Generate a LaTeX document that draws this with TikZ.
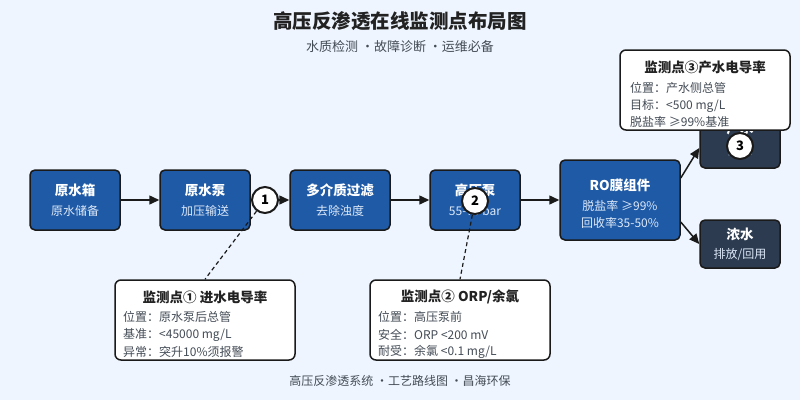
\documentclass[tikz,border=0pt]{standalone}
\usepackage{fontspec}
\setmainfont{Noto Sans CJK SC}
\usetikzlibrary{arrows.meta}
\definecolor{bg}{HTML}{EEF5FE}
\definecolor{boxblue}{HTML}{1F5AA6}
\definecolor{boxdark}{HTML}{2C3B50}
\definecolor{edge}{HTML}{1A1A1A}
\definecolor{txtgray}{HTML}{444C56}
\definecolor{subwhite}{HTML}{DCE8F8}
\definecolor{headtxt}{HTML}{222222}
\begin{document}
\begin{tikzpicture}[x=1pt,y=-1pt,
  proc/.style={draw=edge, line width=1.5pt, rounded corners=5pt, fill=boxblue, inner sep=0pt},
  procdark/.style={proc, fill=boxdark},
  ttl/.style={text=white, font=\bfseries\fontsize{13.5}{15}\selectfont},
  sub/.style={text=subwhite, font=\fontsize{12}{14}\selectfont},
  flow/.style={draw=edge, line width=1.5pt, -{Triangle[length=10pt,width=9pt]}},
  badge/.style={circle, draw=edge, line width=2pt, fill=white, minimum size=26pt, inner sep=0pt, font=\bfseries\fontsize{13}{14}\selectfont},
  callout/.style={draw=edge, line width=1.5pt, rounded corners=6pt, fill=white},
  ctitle/.style={font=\bfseries\fontsize{13.5}{15}\selectfont, text=headtxt},
  cline/.style={font=\fontsize{12}{14}\selectfont, text=txtgray, anchor=west, inner sep=0pt},
  leader/.style={draw=edge, line width=1.2pt, dash pattern=on 4pt off 3pt}
]
% background
\fill[bg] (0,0) rectangle (800,400);
\useasboundingbox (0,0) rectangle (800,400);

% titles
\node[font=\bfseries\fontsize{19.5}{22}\selectfont, text=headtxt] (title) at (400,21) {高压反渗透在线监测点布局图};
\node[font=\fontsize{13}{15}\selectfont, text=txtgray] (subtitle) at (400,47) {水质检测 ・故障诊断 ・运维必备};
\node[font=\fontsize{12}{14}\selectfont, text=txtgray] (footer) at (400,381) {高压反渗透系统 ・工艺路线图 ・昌海环保};

% process boxes
\node[proc, minimum width=90pt, minimum height=60pt] (tank) at (75,200) {};
\node[ttl] (tankT) at (75,190) {原水箱};
\node[sub] (tankS) at (75,211) {原水储备};

\node[proc, minimum width=90pt, minimum height=60pt] (pump) at (205,200) {};
\node[ttl] (pumpT) at (205,190) {原水泵};
\node[sub] (pumpS) at (205,211) {加压输送};

\node[proc, minimum width=100pt, minimum height=60pt] (filt) at (340,200) {};
\node[ttl] (filtT) at (340,190) {多介质过滤};
\node[sub] (filtS) at (340,211) {去除浊度};

\node[proc, minimum width=90pt, minimum height=60pt] (hp) at (475,200) {};
\node[ttl] (hpT) at (475,190) {高压泵};
\node[sub] (hpS) at (475,211) {55-70 bar};

\node[proc, minimum width=120pt, minimum height=80pt] (ro) at (620,200) {};
\node[ttl] (roT) at (620,185) {RO膜组件};
\node[sub] (roS1) at (620,206) {脱盐率 ≥99\%};
\node[sub] (roS2) at (620,223) {回收率35-50\%};

\node[procdark, minimum width=80pt, minimum height=48pt] (prod) at (740,144) {};
\node[ttl] (prodT) at (740,128) {产水};
\node[sub] (prodS) at (740,151) {达标};

\node[procdark, minimum width=80pt, minimum height=48pt] (brine) at (740,244) {};
\node[ttl] (brineT) at (740,234) {浓水};
\node[sub] (brineS) at (740,255) {排放/回用};

% flow arrows
\draw[flow] (tank.east) -- (pump.west);
\draw[flow] (pump.east) -- (filt.west);
\draw[flow] (filt.east) -- (hp.west);
\draw[flow] (hp.east) -- (ro.west);
\draw[flow] ([yshift=22pt]ro.east) -- ([yshift=-4pt]prod.west);
\draw[flow] ([yshift=-22pt]ro.east) -- (brine.west);

% callouts
\node[callout, minimum width=180pt, minimum height=80pt] (c1) at (205,320) {};
\node[callout, minimum width=180pt, minimum height=80pt] (c2) at (460,320) {};

% leaders
\coordinate (m1) at (265,200);
\coordinate (m2) at (475,201);
\coordinate (m3) at (740,146);
\draw[leader] (m1) -- (c1.north);
\draw[leader] (m2) -- (c2.north);

\node[ctitle] (c1T) at (205,297) {监测点① 进水电导率};
\node[cline] (c1a) at (123,317) {位置：原水泵后总管};
\node[cline] (c1b) at (123,335) {基准：<45000 mg/L};
\node[cline] (c1c) at (123,352) {异常：突升10\%须报警};

\node[ctitle] (c2T) at (460,297) {监测点② ORP/余氯};
\node[cline] (c2a) at (378,317) {位置：高压泵前};
\node[cline] (c2b) at (378,335) {安全：ORP <200 mV};
\node[cline] (c2c) at (378,352) {耐受：余氯 <0.1 mg/L};

% badges
\node[badge] (b1) at (m1) {1};
\node[badge] (b2) at (m2) {2};
\node[badge] (b3) at (m3) {3};

% callout 3 (over product box)
\node[callout, minimum width=170pt, minimum height=80pt] (c3) at (705,90) {};
\node[ctitle] (c3T) at (705,67) {监测点③产水电导率};
\node[cline] (c3a) at (630,88) {位置：产水侧总管};
\node[cline] (c3b) at (630,106) {目标：<500 mg/L};
\node[cline] (c3c) at (630,122) {脱盐率 ≥99\%基准};
\end{tikzpicture}
\end{document}
